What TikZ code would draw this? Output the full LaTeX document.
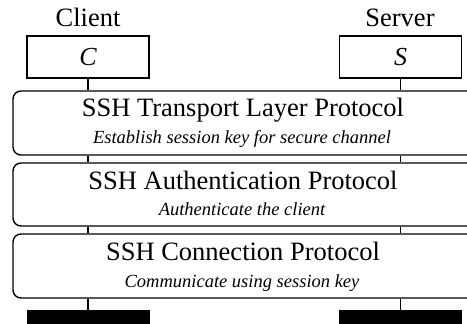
\documentclass[tikz,border=0pt]{standalone}
\usepackage{fontspec}
\setmainfont{Liberation Serif}
\begin{document}
\begin{tikzpicture}[x=1pt,y=-1pt,
  hostbox/.style={draw, line width=1.4pt, minimum width=122pt, minimum height=42pt, inner sep=0pt,
    font=\fontsize{26}{30}\selectfont\itshape},
  layer/.style={draw, rounded corners=8pt, line width=1.4pt, minimum width=462pt, inner sep=0pt},
  hostlabel/.style={anchor=base, inner sep=0pt, font=\fontsize{26.5}{30}\selectfont},
  title/.style={anchor=base, inner sep=0pt, font=\fontsize{26.5}{30}\selectfont},
  subtitle/.style={anchor=base, inner sep=0pt, font=\fontsize{18.5}{22}\selectfont\itshape},
  wire/.style={line width=1.4pt},
  bar/.style={fill=black, minimum width=123pt, minimum height=20pt, inner sep=0pt}]
\useasboundingbox (0,0) rectangle (467,324);
\clip (0,0) rectangle (467,324);

% end hosts
\node[hostlabel] (cl) at (88,27) {Client};
\node[hostlabel] (sv) at (400,27) {Server};
\node[hostbox] (C) at (88,57) {C};
\node[hostbox] (S) at (400.5,57) {S};

% protocol layers
\node[layer, minimum height=64pt] (tl) at (244,123) {};
\node[title] (tlt) at (243,116) {SSH Transport Layer Protocol};
\node[subtitle] (tls) at (242,143) {Establish session key for secure channel};

\node[layer, minimum height=63pt] (au) at (244,194.5) {};
\node[title] (aut) at (243,189) {SSH Authentication Protocol};
\node[subtitle] (aus) at (242,215) {Authenticate the client};

\node[layer, minimum height=64pt] (cn) at (244,266) {};
\node[title] (cnt) at (243,260) {SSH Connection Protocol};
\node[subtitle] (cns) at (242,287) {Communicate using session key};

% physical links
\node[bar] (bl) at (88.5,320) {};
\node[bar] (br) at (400.5,320) {};

% vertical wires between the stack elements
\draw[wire] (C.south) -- (C.south |- tl.north);
\draw[wire] (S.south) -- (S.south |- tl.north);
\draw[wire] (C.south |- tl.south) -- (C.south |- au.north);
\draw[wire] (S.south |- tl.south) -- (S.south |- au.north);
\draw[wire] (C.south |- au.south) -- (C.south |- cn.north);
\draw[wire] (S.south |- au.south) -- (S.south |- cn.north);
\draw[wire] (C.south |- cn.south) -- (C.south |- bl.north);
\draw[wire] (S.south |- cn.south) -- (S.south |- br.north);
\end{tikzpicture}
\end{document}
